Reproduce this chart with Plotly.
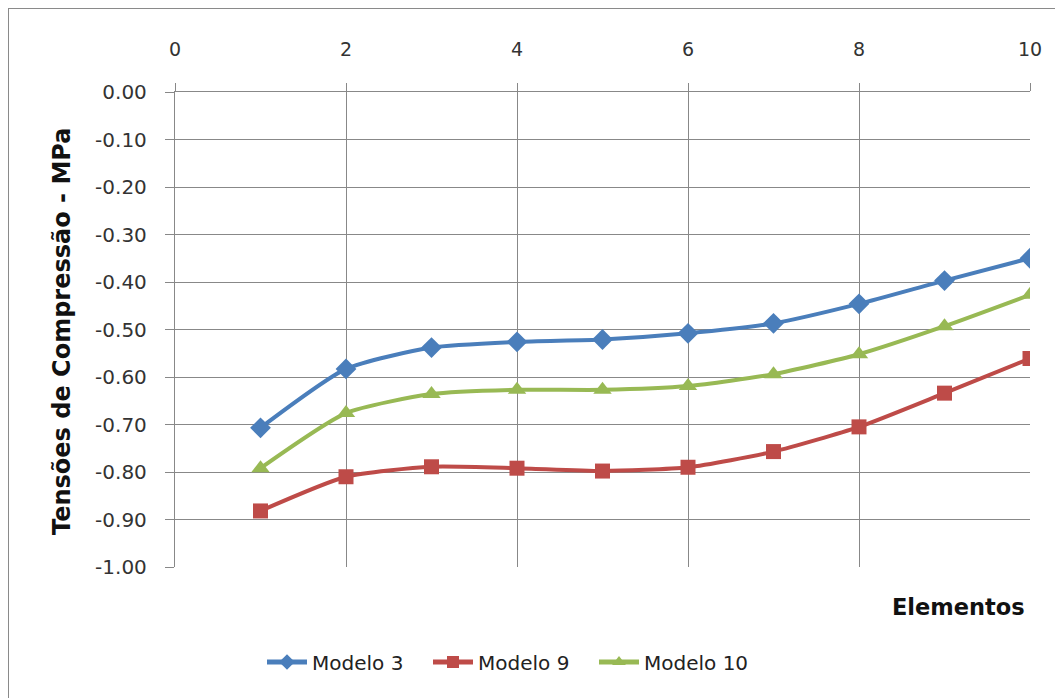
import plotly.graph_objects as go

elementos = [1, 2, 3, 4, 5, 6, 7, 8, 9, 10]
modelo3 = [-0.707, -0.583, -0.538, -0.526, -0.521, -0.508, -0.487, -0.446, -0.397, -0.350]
modelo9 = [-0.882, -0.810, -0.789, -0.792, -0.798, -0.790, -0.757, -0.705, -0.634, -0.561]
modelo10 = [-0.792, -0.676, -0.636, -0.627, -0.627, -0.619, -0.594, -0.552, -0.493, -0.427]

y_tickvals = [0.0, -0.1, -0.2, -0.3, -0.4, -0.5, -0.6, -0.7, -0.8, -0.9, -1.0]
y_ticktext = ["0.00", "-0.10", "-0.20", "-0.30", "-0.40", "-0.50",
              "-0.60", "-0.70", "-0.80", "-0.90", "-1.00"]
x_tickvals = [0, 2, 4, 6, 8, 10]

series = [
    ("Modelo 3", modelo3, "#4A7EBB", "diamond", 16),
    ("Modelo 9", modelo9, "#BE4B48", "square", 15),
    ("Modelo 10", modelo10, "#98B954", "triangle-up", 16),
]

fig = go.Figure()
for name, vals, col, sym, sz in series:
    fig.add_trace(go.Scatter(
        x=elementos, y=vals, name=name, mode="lines+markers",
        line=dict(color=col, width=4, shape="spline", smoothing=0.6),
        marker=dict(symbol=sym, size=sz, color=col),
    ))

font_main = "'DejaVu Sans', sans-serif"
# page body has an 8px margin, so figure coords = screen coords - 8
OFF = 8
W, H = 1063, 698
L, T = 175 - OFF, 92 - OFF
R = W - (1030 - OFF)
B = H - (567 - OFF)
pw, ph = W - L - R, H - T - B

def px2x(p):
    return (p - OFF - L) / pw

def py2y(p):
    return (H - B - (p - OFF)) / ph

fig.update_layout(
    width=W, height=H,
    margin=dict(l=L, r=R, t=T, b=B, autoexpand=False),
    paper_bgcolor="white", plot_bgcolor="white",
    font=dict(family=font_main, size=19, color="#404040"),
    showlegend=True,
    legend=dict(orientation="h", x=px2x(262), xanchor="left", y=py2y(662), yanchor="middle",
                font=dict(size=20, color="#222222"), itemwidth=40, traceorder="normal",
                entrywidth=111, entrywidthmode="pixels", itemsizing="constant"),
    xaxis=dict(range=[0, 10], side="top", tickvals=x_tickvals, showgrid=True,
               gridcolor="#888888", gridwidth=1.3, showline=True, linecolor="#888888",
               linewidth=1.3, ticks="outside", ticklen=8, tickcolor="#888888",
               zeroline=False, ticklabelstandoff=19,
               tickfont=dict(size=19, color="#333333")),
    yaxis=dict(range=[-1.0, 0.0], tickvals=y_tickvals, ticktext=y_ticktext, showgrid=True,
               gridcolor="#888888", gridwidth=1.3, showline=True, linecolor="#888888",
               linewidth=1.3, ticks="outside", ticklen=9, tickcolor="#888888",
               zeroline=False, ticklabelstandoff=14,
               tickfont=dict(size=20, color="#333333")),
    annotations=[
        dict(text="<b>Tensões de Compressão - MPa</b>", xref="paper", yref="paper",
             x=px2x(62), y=py2y(332), xanchor="center", yanchor="middle", textangle=-90,
             showarrow=False, font=dict(size=24, color="#111111")),
        dict(text="<b>Elementos</b>", xref="paper", yref="paper",
             x=px2x(958), y=py2y(607), xanchor="center", yanchor="middle",
             showarrow=False, font=dict(size=22.5, color="#111111")),
    ],
    shapes=[
        dict(type="rect", xref="paper", yref="paper",
             x0=px2x(8), y0=py2y(730), x1=px2x(1100), y1=py2y(8),
             line=dict(color="#8a8a8a", width=2), layer="below"),
    ],
)

fig.write_html("out.html")
